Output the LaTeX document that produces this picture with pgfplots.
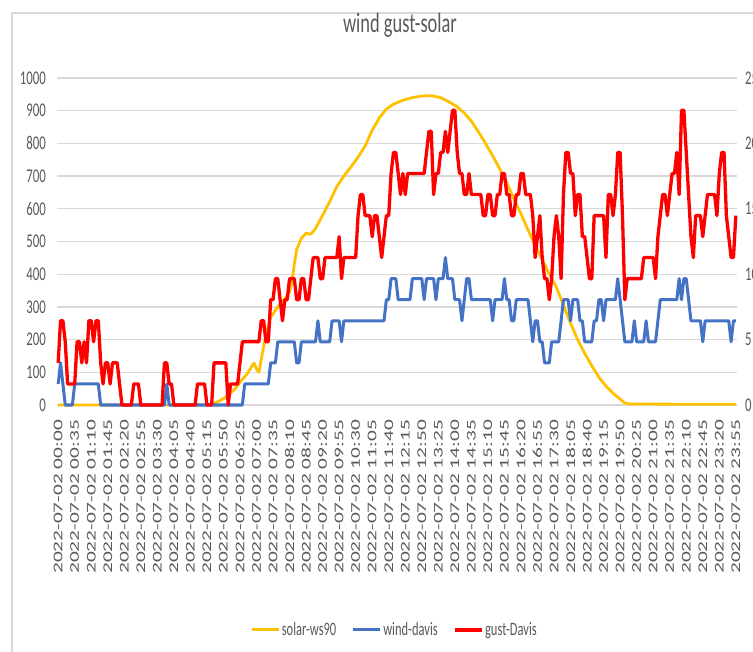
\documentclass[border=0pt]{standalone}
\usepackage{fontspec}
\usepackage{pgfplots}
\pgfplotsset{compat=1.18}
\newfontfamily\hfont[FakeStretch=0.66]{Carlito}
\newfontfamily\vfont[FakeStretch=1.6]{Carlito}
\definecolor{txt}{HTML}{595959}
\definecolor{gridc}{HTML}{D9D9D9}
\definecolor{solarc}{HTML}{FFC000}
\definecolor{windc}{HTML}{4472C4}
\definecolor{gustc}{HTML}{FF0000}
\begin{document}
\begin{tikzpicture}
\draw[gridc, line width=1.3bp] (12bp,0) -- (12bp,639bp) -- (753bp,639bp);
\node[font=\hfont\fontsize{28}{30}\selectfont, text=txt, anchor=base] at (400bp,619bp) {wind gust-solar};
\begin{axis}[
  at={(57bp,247bp)}, anchor=south west, scale only axis,
  width=680bp, height=327bp,
  xmin=-0.5, xmax=287.5, ymin=0, ymax=1000,
  axis line style={draw=none},
  ymajorgrids, grid style={gridc, line width=1.3bp},
  major tick length=0pt,
  ytick={0,100,...,1000},
  xtick={0,7,...,287},
  xticklabels={2022-07-02 00:00,2022-07-02 00:35,2022-07-02 01:10,2022-07-02 01:45,2022-07-02 02:20,2022-07-02 02:55,2022-07-02 03:30,2022-07-02 04:05,2022-07-02 04:40,2022-07-02 05:15,2022-07-02 05:50,2022-07-02 06:25,2022-07-02 07:00,2022-07-02 07:35,2022-07-02 08:10,2022-07-02 08:45,2022-07-02 09:20,2022-07-02 09:55,2022-07-02 10:30,2022-07-02 11:05,2022-07-02 11:40,2022-07-02 12:15,2022-07-02 12:50,2022-07-02 13:25,2022-07-02 14:00,2022-07-02 14:35,2022-07-02 15:10,2022-07-02 15:45,2022-07-02 16:20,2022-07-02 16:55,2022-07-02 17:30,2022-07-02 18:05,2022-07-02 18:40,2022-07-02 19:15,2022-07-02 19:50,2022-07-02 20:25,2022-07-02 21:00,2022-07-02 21:35,2022-07-02 22:10,2022-07-02 22:45,2022-07-02 23:20,2022-07-02 23:55},
  /pgf/number format/assume math mode=true,
  /pgf/number format/1000 sep={},
  yticklabel style={font=\hfont\fontsize{19.5}{20}\selectfont, text=txt, inner sep=0pt, anchor=east},
  yticklabel shift=11bp,
  xticklabel style={font=\vfont\fontsize{13.4}{14}\selectfont, text=txt, inner sep=0pt, rotate=90, anchor=east},
  xticklabel shift=15bp,
  clip=false,
]
\addplot[solarc, line width=2.8bp, line join=round] coordinates {
(0,0)(63,0)(66,5)(69,15)(72,30)(75,50)(77,70)(80,95)(82,118)(83,128)(84,110)(85,100)(86,140)(88,215)(90,268)(93,300)(96,325)(98,345)(99,375)(100,430)(101,475)(103,510)(105,525)(107,522)(109,540)(112,580)(115,622)(118,668)(121,700)(124,728)(127,758)(130,792)(133,840)(136,878)(139,905)(142,920)(146,932)(150,940)(154,945)(158,946)(162,940)(166,925)(169,912)(172,893)(175,868)(178,835)(181,800)(184,762)(187,722)(190,680)(193,630)(196,585)(199,535)(202,488)(205,445)(208,400)(211,360)(214,305)(217,250)(220,200)(223,158)(226,120)(229,85)(232,58)(235,36)(238,18)(240,6)(242,3)(287,2)
};
\end{axis}
\begin{axis}[
  at={(57bp,247bp)}, anchor=south west, scale only axis,
  width=680bp, height=327bp,
  xmin=-0.5, xmax=287.5, ymin=0, ymax=25,
  axis x line=none, axis y line*=right,
  axis line style={draw=none},
  major tick length=0pt,
  ytick={0,5,...,25},
  /pgf/number format/assume math mode=true,
  yticklabel style={font=\hfont\fontsize{19.5}{20}\selectfont, text=txt, inner sep=0pt, anchor=west},
  yticklabel shift=8bp,
  clip=false,
  legend columns=3,
  legend style={draw=none, fill=none, at={(axis description cs:0.496,-0.688)}, anchor=center,
    font=\hfont\fontsize{19}{20}\selectfont, text=txt, nodes={inner sep=1.5bp},
    /tikz/every even column/.append style={column sep=14bp}},
  legend image code/.code={\draw[#1] (0bp,0bp) -- (27bp,0bp);},
]
\addlegendimage{solarc, line width=3bp}
\addlegendentry{solar-ws90}
\addplot[windc, line width=3bp, line join=round] coordinates {
(0,1.61)(1,3.22)(2,1.61)(3,0)(6,0)(7,1.61)(17,1.61)(18,0)(45,0)(46,1.61)(47,0)(78,0)(79,1.61)(89,1.61)(90,3.22)(92,3.22)(93,4.83)(100,4.83)(101,3.22)(102,3.22)(103,4.83)(109,4.83)(110,6.44)(111,4.83)(115,4.83)(116,6.44)(119,6.44)(120,4.83)(121,6.44)(138,6.44)(139,8.05)(140,8.05)(141,9.66)(143,9.66)(144,8.05)(149,8.05)(150,9.66)(154,9.66)(155,8.05)(156,9.66)(159,9.66)(160,8.05)(161,9.66)(163,9.66)(164,11.27)(165,9.66)(167,9.66)(168,8.05)(170,8.05)(171,6.44)(172,8.05)(173,9.66)(174,9.66)(175,8.05)(183,8.05)(184,6.44)(185,8.05)(188,8.05)(189,9.66)(190,8.05)(191,8.05)(192,6.44)(193,6.44)(194,8.05)(199,8.05)(200,6.44)(201,4.83)(202,6.44)(203,6.44)(204,4.83)(205,4.83)(206,3.22)(208,3.22)(209,4.83)(212,4.83)(213,6.44)(214,8.05)(216,8.05)(217,6.44)(218,8.05)(220,8.05)(221,6.44)(222,6.44)(223,4.83)(226,4.83)(227,6.44)(228,6.44)(229,8.05)(230,8.05)(231,6.44)(232,8.05)(236,8.05)(237,9.66)(238,8.05)(239,6.44)(240,4.83)(243,4.83)(244,6.44)(245,4.83)(248,4.83)(249,6.44)(250,4.83)(253,4.83)(254,6.44)(255,8.05)(262,8.05)(263,9.66)(264,8.05)(265,9.66)(266,9.66)(267,8.05)(268,6.44)(272,6.44)(273,4.83)(274,6.44)(284,6.44)(285,4.83)(286,6.44)(287,6.44)
};
\addlegendentry{wind-davis}
\addplot[gustc, line width=3.3bp, line join=round] coordinates {
(0,3.22)(1,6.44)(2,6.44)(3,4.83)(4,1.61)(7,1.61)(8,4.83)(9,4.83)(10,3.22)(11,4.83)(12,3.22)(13,6.44)(14,6.44)(15,4.83)(16,6.44)(17,6.44)(18,3.22)(19,1.61)(20,3.22)(21,3.22)(22,1.61)(23,3.22)(25,3.22)(26,1.61)(27,0)(31,0)(32,1.61)(34,1.61)(35,0)(44,0)(45,3.22)(46,3.22)(47,1.61)(48,1.61)(49,0)(58,0)(59,1.61)(62,1.61)(63,0)(65,0)(66,3.22)(71,3.22)(72,0)(73,1.61)(76,1.61)(77,3.22)(78,4.83)(85,4.83)(86,6.44)(87,6.44)(88,4.83)(89,4.83)(90,8.05)(91,8.05)(92,9.66)(93,9.66)(94,8.05)(95,6.44)(96,8.05)(97,8.05)(98,9.66)(100,9.66)(101,8.05)(102,8.05)(103,9.66)(104,9.66)(105,8.05)(106,8.05)(107,9.66)(108,11.27)(110,11.27)(111,9.66)(112,9.66)(113,11.27)(118,11.27)(119,12.87)(120,9.66)(121,11.27)(126,11.27)(127,14.48)(128,16.09)(129,16.09)(130,14.48)(132,14.48)(133,12.87)(134,14.48)(135,14.48)(136,12.87)(137,11.27)(138,12.87)(139,14.48)(140,14.48)(141,17.70)(142,19.31)(143,19.31)(144,17.70)(145,16.09)(146,17.70)(147,16.09)(148,17.70)(155,17.70)(156,19.31)(157,20.92)(158,20.92)(159,16.09)(160,17.70)(161,17.70)(162,19.31)(163,19.31)(164,20.92)(165,19.31)(166,20.92)(167,22.53)(168,22.53)(169,19.31)(170,17.70)(171,17.70)(172,16.09)(173,16.09)(174,17.70)(175,16.09)(179,16.09)(180,14.48)(181,14.48)(182,16.09)(183,16.09)(184,14.48)(185,14.48)(186,16.09)(187,16.09)(188,17.70)(189,17.70)(190,16.09)(191,16.09)(192,14.48)(193,14.48)(194,16.09)(195,16.09)(196,17.70)(197,17.70)(198,16.09)(200,16.09)(201,14.48)(202,11.27)(203,12.87)(204,14.48)(205,11.27)(206,9.66)(207,9.66)(208,8.05)(209,9.66)(210,12.87)(211,14.48)(212,12.87)(213,9.66)(214,16.09)(215,19.31)(216,19.31)(217,17.70)(218,17.70)(219,14.48)(220,16.09)(221,16.09)(222,12.87)(223,12.87)(224,11.27)(225,9.66)(226,9.66)(227,14.48)(231,14.48)(232,11.27)(233,16.09)(234,16.09)(235,14.48)(236,16.09)(237,19.31)(238,19.31)(239,14.48)(240,8.05)(241,9.66)(247,9.66)(248,11.27)(252,11.27)(253,9.66)(254,12.87)(255,14.48)(256,16.09)(257,16.09)(258,14.48)(259,16.09)(260,17.70)(261,17.70)(262,19.31)(263,16.09)(264,22.53)(265,22.53)(266,19.31)(267,16.09)(268,12.87)(269,11.27)(270,14.48)(272,14.48)(273,12.87)(274,14.48)(275,16.09)(278,16.09)(279,14.48)(280,17.70)(281,19.31)(282,19.31)(283,14.48)(284,12.87)(285,11.27)(286,11.27)(287,14.48)
};
\addlegendentry{gust-Davis}
\end{axis}
\pgfresetboundingbox
\path[use as bounding box] (0,0) rectangle (753bp,652bp);
\end{tikzpicture}
\end{document}
